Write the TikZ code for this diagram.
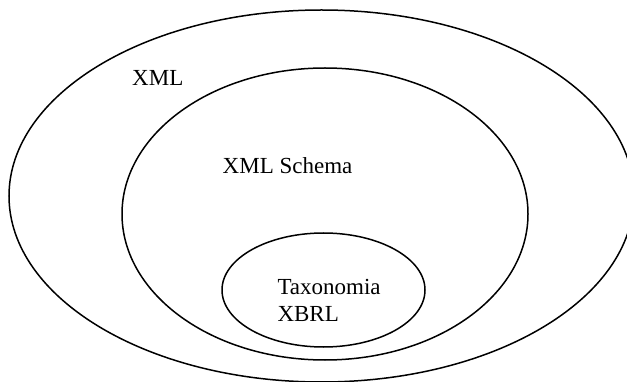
\documentclass[tikz,border=0pt]{standalone}
\usepackage{fontspec}
\setmainfont{Liberation Serif}
\usetikzlibrary{shapes.geometric}
\begin{document}
\begin{tikzpicture}[x=1pt,y=-1pt,
  set/.style={draw=black,line width=1.5pt,ellipse,inner sep=0pt,outer sep=0pt},
  lbl/.style={anchor=base west,inner sep=0pt,font=\fontsize{23}{26.7}\selectfont,align=left}]
  \useasboundingbox (0,0) rectangle (627,382);
  \clip (0,0) rectangle (627,382);
  % nested sets
  \node[set,minimum width=625pt,minimum height=372pt] (xml) at (321.5,196) {};
  \node[set,minimum width=406pt,minimum height=292pt] (schema) at (325,214) {};
  \node[set,minimum width=203pt,minimum height=114pt] (tax) at (323.5,290) {};
  % labels
  \node[lbl] (lxml) at (132,86) {XML};
  \node[lbl] (lschema) at (222.5,174) {XML Schema};
  \node[lbl] (ltax) at (277.3,295) {Taxonomia};
  \node[lbl] (lxbrl) at (277.3,321.7) {XBRL};
\end{tikzpicture}
\end{document}
